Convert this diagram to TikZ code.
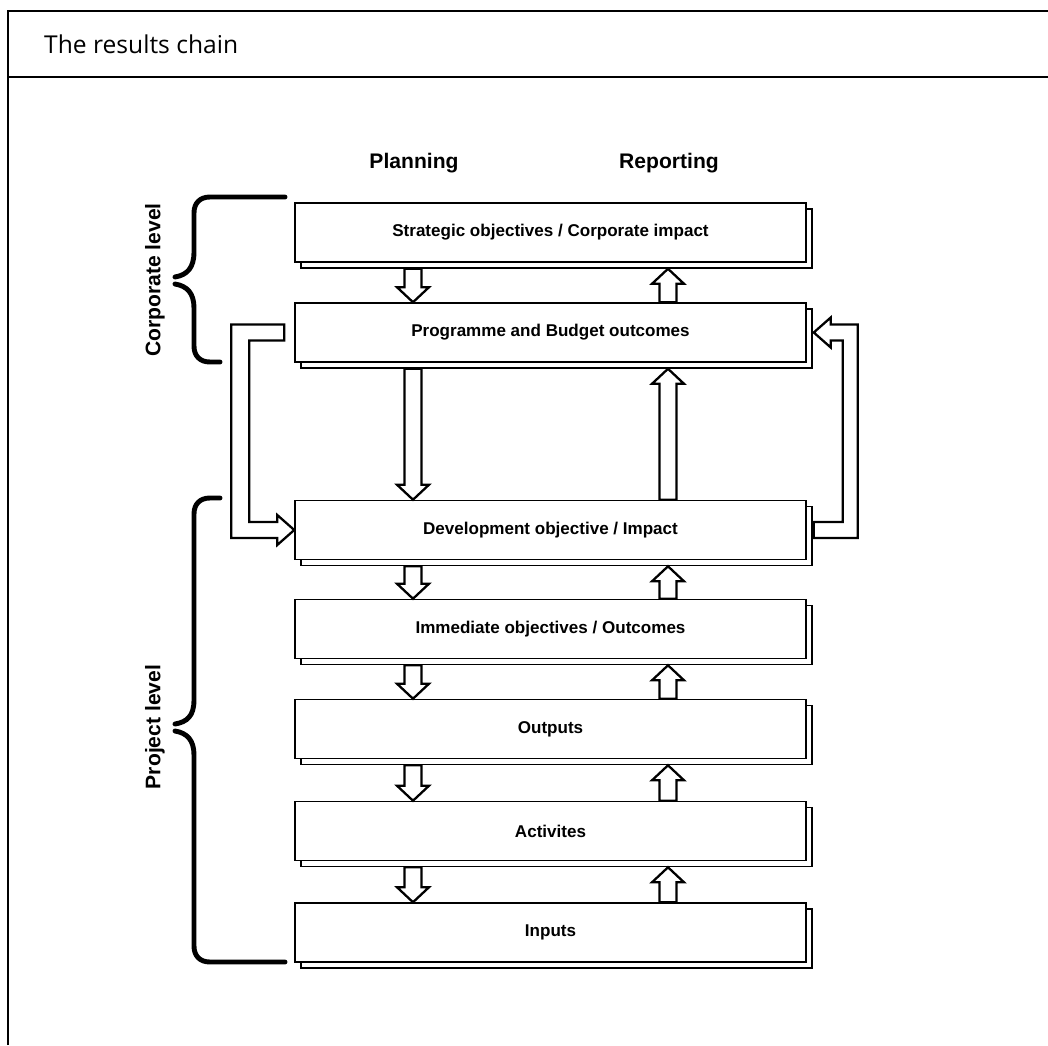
\documentclass[tikz,border=0pt]{standalone}
\usepackage{fontspec}
\setmainfont{Liberation Sans}
\newfontfamily\titlefont{Open Sans}
\usetikzlibrary{calc, shadows}

\tikzset{
  stage/.style={draw, line width=0.9pt, fill=white, minimum width=10.22cm, minimum height=1.18cm,
    font=\fontsize{9.7}{11}\selectfont\bfseries,
    copy shadow={shadow xshift=0.12cm, shadow yshift=-0.12cm, draw=black, fill=white, line width=1.1pt}},
  blockarr/.style={draw, fill=white, line width=1.3pt, line join=miter},
  brace/.style={line width=2.8pt, line cap=round},
  colhead/.style={font=\fontsize{12}{14}\selectfont\bfseries},
  levellabel/.style={font=\fontsize{12}{14}\selectfont\bfseries, rotate=90},
}

\begin{document}
\begin{tikzpicture}[x=0.02cm, y=-0.02cm]
  \useasboundingbox (0,0) rectangle (1048,1045);

  % frame and heading
  \draw[line width=1pt] (8,1045) -- (8,11) -- (1048,11);
  \draw[line width=1pt] (8,77) -- (1048,77);
  \node[anchor=west, font=\titlefont\fontsize{14}{16}\selectfont] (title) at (38,44) {The results chain};

  \node[colhead] (planning) at (414,163) {Planning};
  \node[colhead] (reporting) at (669,163) {Reporting};

  % the chain
  \node[stage] (strat) at (550.5,232.5) {Strategic objectives / Corporate impact};
  \node[stage] (prog) at (550.5,332.5) {Programme and Budget outcomes};
  \node[stage] (dev) at (550.5,530) {Development objective / Impact};
  \node[stage] (imm) at (550.5,629) {Immediate objectives / Outcomes};
  \node[stage] (outp) at (550.5,729) {Outputs};
  \node[stage] (act) at (550.5,831) {Activites};
  \node[stage] (inp) at (550.5,932.5) {Inputs};

  \coordinate (plan) at (413,0);
  \coordinate (rep) at (668,0);

  % planning goes down, reporting goes up
  \foreach \a/\b in {strat/prog, prog/dev, dev/imm, imm/outp, outp/act, act/inp} {
    \draw[blockarr] ($(\a.south -| plan)+(-8.5,6)$) -- ($(\b.north -| plan)+(-8.5,-15)$)
      -- ($(\b.north -| plan)+(-16,-15)$) -- (\b.north -| plan) -- ($(\b.north -| plan)+(16,-15)$)
      -- ($(\b.north -| plan)+(8.5,-15)$) -- ($(\a.south -| plan)+(8.5,6)$) -- cycle;
    \draw[blockarr] ($(\b.north -| rep)+(-8.5,0)$) -- ($(\a.south -| rep)+(-8.5,21)$)
      -- ($(\a.south -| rep)+(-16,21)$) -- ($(\a.south -| rep)+(0,6)$) -- ($(\a.south -| rep)+(16,21)$)
      -- ($(\a.south -| rep)+(8.5,21)$) -- ($(\b.north -| rep)+(8.5,0)$) -- cycle;
  }

  % left bend: programme -> development
  \draw[blockarr] ($(prog.west)+(-10,-8)$) -- ($(prog.west)+(-63,-8)$) -- ($(dev.west)+(-63,8)$)
    -- ($(dev.west)+(-17,8)$) -- ($(dev.west)+(-17,15)$) -- (dev.west) -- ($(dev.west)+(-17,-15)$)
    -- ($(dev.west)+(-17,-8)$) -- ($(dev.west)+(-45,-8)$) -- ($(prog.west)+(-45,8)$)
    -- ($(prog.west)+(-10,8)$) -- cycle;

  % right bend: development -> programme
  \draw[blockarr] ($(dev.east)+(7,-8)$) -- ($(dev.east)+(36,-8)$) -- ($(prog.east)+(36,8)$)
    -- ($(prog.east)+(24,8)$) -- ($(prog.east)+(24,15)$) -- ($(prog.east)+(7,0)$)
    -- ($(prog.east)+(24,-15)$) -- ($(prog.east)+(24,-8)$) -- ($(prog.east)+(51,-8)$)
    -- ($(dev.east)+(51,8)$) -- ($(dev.east)+(7,8)$) -- cycle;

  % corporate brace
  \draw[brace] (285,197) -- (210,197) .. controls (200,197) and (194,203) .. (194,213)
    -- (194,252) .. controls (194,268) and (187,275) .. (175,277);
  \draw[brace] (175,284) .. controls (187,286) and (194,293) .. (194,308)
    -- (194,346) .. controls (194,356) and (200,362) .. (210,362) -- (220,362);
  \node[levellabel] (corplabel) at (155,280) {Corporate level};

  % project brace
  \draw[brace] (220,498) -- (210,498) .. controls (200,498) and (194,504) .. (194,514)
    -- (194,700) .. controls (194,716) and (187,722) .. (175,724);
  \draw[brace] (175,731) .. controls (187,733) and (194,740) .. (194,755)
    -- (194,946) .. controls (194,956) and (200,962) .. (210,962) -- (285,962);
  \node[levellabel] (projlabel) at (155,727) {Project level};
\end{tikzpicture}
\end{document}
